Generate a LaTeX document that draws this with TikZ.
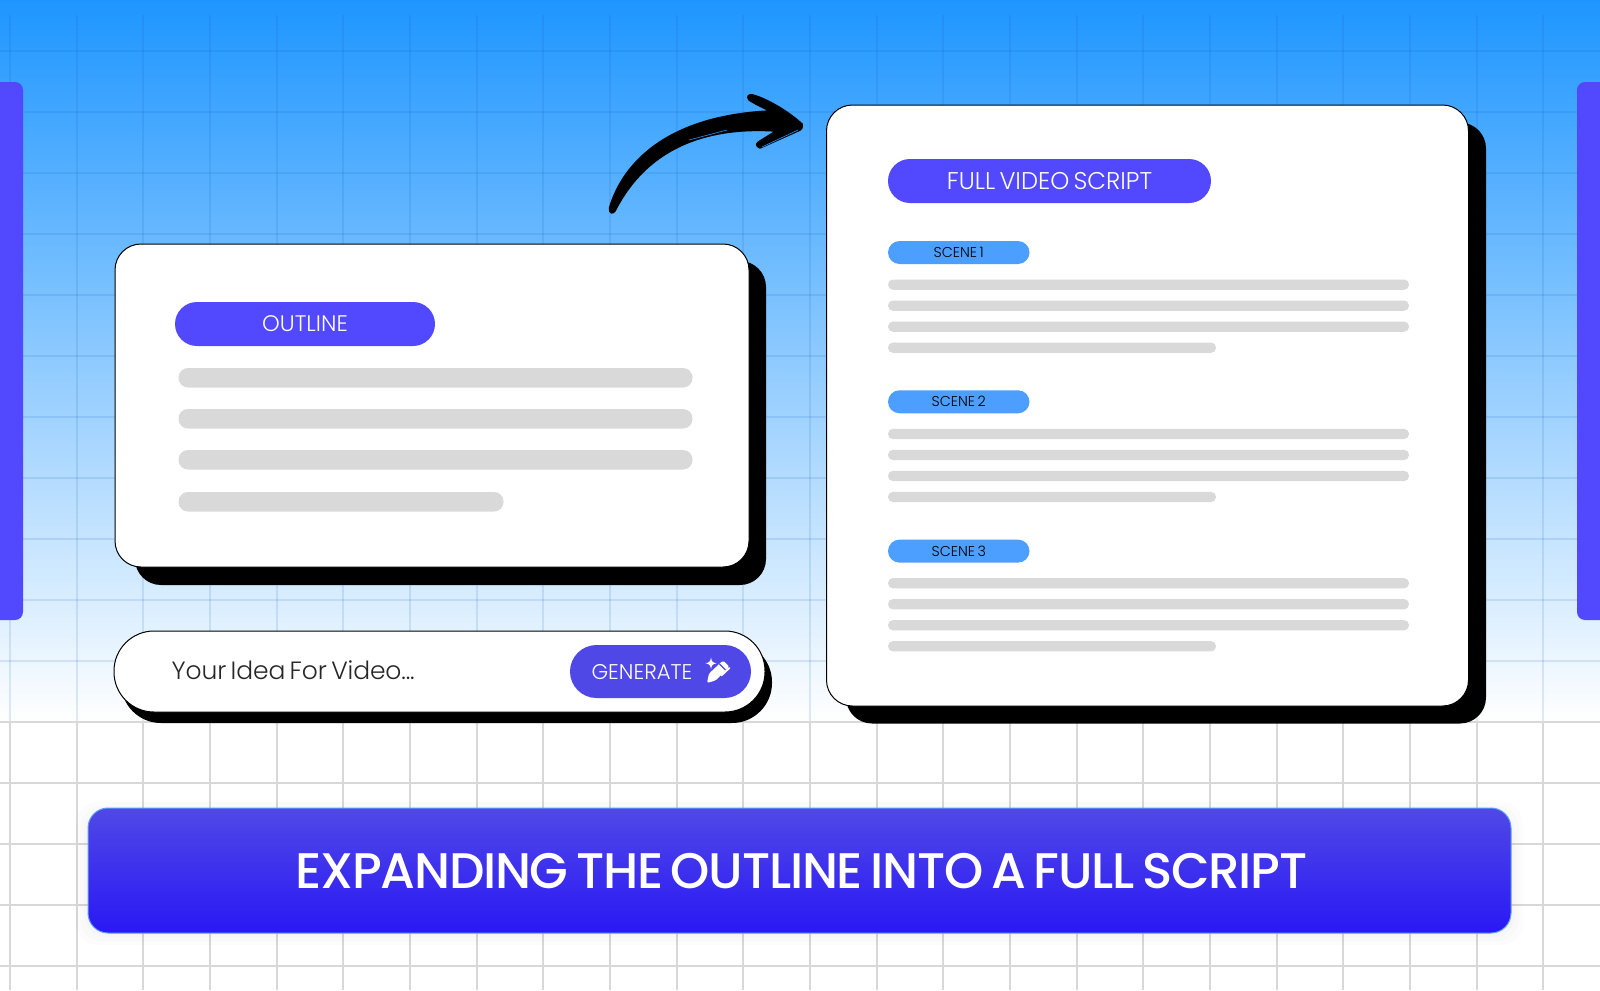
\documentclass[tikz,border=0pt]{standalone}
\usepackage{fontspec}
\setmainfont{Poppins}[UprightFont=* Light,BoldFont=* Medium,WordSpace=0.65]
\definecolor{skytop}{RGB}{30,150,255}
\definecolor{indigo}{RGB}{82,73,255}
\definecolor{btnblue}{RGB}{80,72,230}
\definecolor{scenepill}{RGB}{77,159,255}
\definecolor{barfill}{RGB}{217,217,217}
\definecolor{banlow}{RGB}{42,24,245}
\definecolor{banmid}{RGB}{68,56,235}
\definecolor{banedge}{RGB}{95,160,245}
\definecolor{gridgray}{RGB}{216,216,216}
\definecolor{gridblue}{RGB}{20,90,190}
\begin{document}
\begin{tikzpicture}[x=1pt,y=-1pt]
    % node style definition
    \tikzstyle{box} = [rectangle, anchor=north west, inner sep=0pt, outer sep=0pt];
    \tikzstyle{sidebar} = [box, fill=indigo, rounded corners=8pt,
    	minimum width=40pt, minimum height=538pt];
    \tikzstyle{panel} = [box, draw=black, fill=white, line width=1pt, rounded corners=26pt];
    \tikzstyle{shadowpanel} = [box, fill=black, rounded corners=26pt];
    \tikzstyle{pill} = [box, fill=indigo, text=white];
    \tikzstyle{scenetag} = [box, fill=scenepill, rounded corners=11.5pt,
    	minimum width=141.5pt, minimum height=23pt,
    	font=\fontsize{14.3}{17}\selectfont];
    \tikzstyle{bar} = [box, fill=barfill];
    \tikzstyle{gridsky} = [line width=1.3pt, gridblue, opacity=0.13];
    \tikzstyle{gridlow} = [line width=1.3pt, gridgray];
    \useasboundingbox (0,0) rectangle (1600,990);
    % sky background and grid
    \shade[top color=skytop, bottom color=white] (0,0) rectangle (1600,722);
    \foreach \x in {10,77,143,210,277,343,410,477,543,610,677,743,810,877,943,1010,1077,1143,1210,1277,1343,1410,1477,1543}
    {
    	\draw[gridsky] (\x,15) -- (\x,722);
    	\draw[gridlow] (\x,722) -- (\x,990);
    }
    \foreach \y in {51,112,173,234,295,356,417,478,539,600,661}
    {
    	\draw[gridsky] (0,\y) -- (1600,\y);
    }
    \foreach \y in {722,783,844,905,966}
    {
    	\draw[gridlow] (0,\y) -- (1600,\y);
    }
    % side bars
    \node[sidebar] (leftbar) at (-17,82) {};
    \node[sidebar] (rightbar) at (1577,82) {};
    % outline card
    \node[shadowpanel, minimum width=631pt, minimum height=324pt] (outlineshadow) at (135,261) {};
    \node[panel, minimum width=634pt, minimum height=323pt] (outlinecard) at (115,244) {};
    \node[pill, rounded corners=22pt, minimum width=260pt, minimum height=44pt,
    	font=\fontsize{22.5}{27}\selectfont] (outlinepill) at (175,302) {OUTLINE};
    \foreach \name/\y/\w in {a/368/514, b/409/514, c/450/514, d/492/325}
    {
    	\node[bar, rounded corners=9.5pt, minimum width=\w pt, minimum height=19.5pt] (outline\name) at (178.5,\y) {};
    }
    % idea input
    \node[shadowpanel, rounded corners=40pt, minimum width=651pt, minimum height=81pt] (inputshadow) at (121,642) {};
    \node[panel, rounded corners=40pt, minimum width=651pt, minimum height=81pt] (inputbox) at (114,631) {};
    \node[anchor=west, inner sep=0pt, text=black!85,
    	font=\fontsize{25}{30}\selectfont\addfontfeatures{LetterSpace=-0.5}] (ideatext) at (171.5,670) {Your Idea For Video...};
    \node[box, fill=btnblue, rounded corners=26.5pt, minimum width=181pt, minimum height=53pt] (generatebtn) at (570,645) {};
    \node[anchor=center, inner sep=0pt, text=white, font=\fontsize{21.3}{25}\selectfont] (generatetext) at (642,672) {GENERATE};
    % pen icon
    \fill[white] (711,657.5) .. controls (711.6,661.5) and (712.8,662.7) .. (716.5,663.3)
    	.. controls (712.8,663.9) and (711.6,665.1) .. (711,669)
    	.. controls (710.4,665.1) and (709.2,663.9) .. (705.5,663.3)
    	.. controls (709.2,662.7) and (710.4,661.5) .. (711,657.5) -- cycle;
    \fill[white, rounded corners=1.5pt] (707,683) -- (709,673.5) -- (723,660.5) -- (729.5,667) -- (715.5,680.5) -- cycle;
    \draw[btnblue, line width=1.2pt] (719.5,664) -- (725.5,670);
    \draw[white, line width=1.6pt, line cap=round] (721.5,675.5) -- (729.5,668);
    % arrow between the cards
    \fill[black, draw=black, line width=1.5pt, line join=round]
    	(609.5,208) .. controls (622,165) and (665,116) .. (770,111)
    	.. controls (762,107) and (755,104) .. (749,100)
    	.. controls (746,96) and (749,94) .. (753,95)
    	.. controls (770,100) and (790,113) .. (802,124)
    	.. controls (803,128) and (801,130) .. (798,131)
    	-- (760,148)
    	.. controls (755,146) and (756,143) .. (760,141)
    	-- (776,131)
    	.. controls (715,127) and (650,142) .. (615,211)
    	.. controls (613,214) and (609,214) .. (609.5,208) -- cycle;
    \draw[skytop, line width=0.6pt] (689,140) -- (727,130);
    \draw[skytop, line width=0.6pt] (762,147) -- (798,130);
    % script card
    \node[shadowpanel, minimum width=640pt, minimum height=601pt] (scriptshadow) at (846,122.5) {};
    \node[panel, minimum width=642pt, minimum height=601pt] (scriptcard) at (826.5,105) {};
    \node[pill, rounded corners=22pt, minimum width=323pt, minimum height=44pt,
    	font=\fontsize{24.2}{29}\selectfont] (scriptpill) at (888,159) {FULL VIDEO SCRIPT};
    % one block per scene
    \foreach \sc/\dy in {1/0, 2/149.3, 3/298.6}
    {
    	\node[scenetag] (scene\sc) at (888,241+\dy) {SCENE \sc};
    	\foreach \ln/\y/\w in {a/279.5/521, b/300.5/521, c/321.5/521, d/342.5/328}
    	{
    		\node[bar, rounded corners=5pt, minimum width=\w pt, minimum height=10.3pt] (line\sc\ln) at (888,\y+\dy) {};
    	}
    }
    % banner
    \foreach \g in {4,8,12}
    {
    	\fill[black, opacity=0.012, rounded corners=22pt] (88-\g,814-\g) rectangle (1511+\g,933+\g);
    }
    \node[box, top color=btnblue, middle color=banmid, bottom color=banlow, draw=banedge, line width=1pt,
    	rounded corners=20pt, minimum width=1423pt, minimum height=125pt] (banner) at (88,808) {};
    \node[anchor=center, inner sep=0pt, text=white,
    	font=\bfseries\fontsize{50}{60}\selectfont\addfontfeatures{LetterSpace=-2.5}] (bannertext) at (801.5,871) {EXPANDING THE OUTLINE INTO A FULL SCRIPT};
\end{tikzpicture}
\end{document}
